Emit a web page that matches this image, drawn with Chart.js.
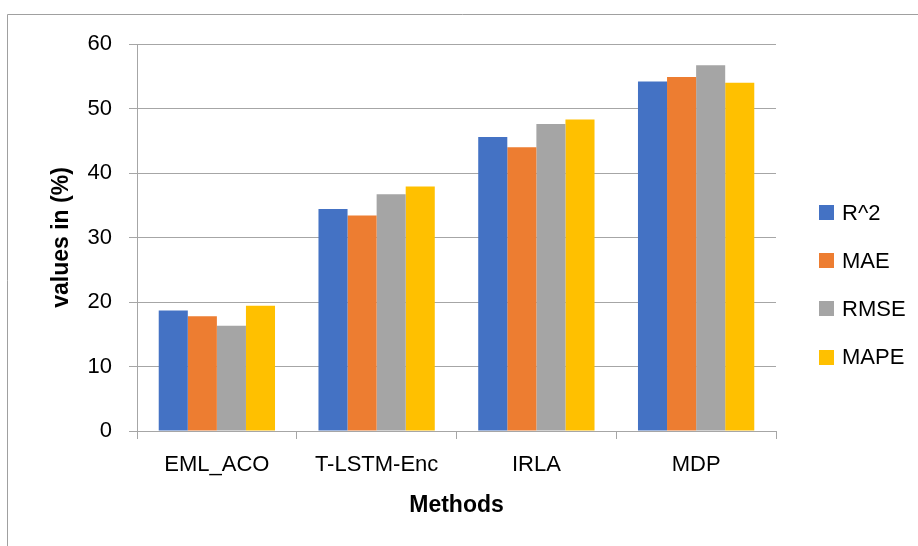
<!DOCTYPE html>
<html>
<head>
<meta charset="utf-8">
<script src="https://cdn.jsdelivr.net/npm/chart.js@4.4.0/dist/chart.umd.min.js"></script>
<style>
  html, body { margin: 0; padding: 0; background: #fff; }
  #wrap { width: 918px; height: 546px; position: relative; }
</style>
</head>
<body>
<div id="wrap"><canvas id="c" width="918" height="546"></canvas></div>
<script>
const categories = ["EML_ACO", "T-LSTM-Enc", "IRLA", "MDP"];
const seriesNames = ["R^2", "MAE", "RMSE", "MAPE"];
const r2 = [18.7, 34.4, 45.6, 54.2];
const mae = [17.8, 33.4, 44.0, 54.9];
const rmse = [16.3, 36.7, 47.6, 56.7];
const mape = [19.4, 37.9, 48.3, 54.0];
const yTicks = [0, 10, 20, 30, 40, 50, 60];
const colors = ["#4472C4", "#ED7D31", "#A5A5A5", "#FFC000"];

const FONT = "'Liberation Sans', Arial, sans-serif";
const GRID = "#a6a6a6";

const frameAndLegend = {
  id: 'frameAndLegend',
  beforeDraw(chart) {
    const ctx = chart.ctx;
    ctx.save();
    ctx.fillStyle = '#ffffff';
    ctx.fillRect(0, 0, chart.width, chart.height);
    ctx.strokeStyle = '#a0a0a0';
    ctx.lineWidth = 1;
    ctx.beginPath();
    ctx.moveTo(7.5, chart.height);
    ctx.lineTo(7.5, 14.5);
    ctx.lineTo(chart.width, 14.5);
    ctx.stroke();
    ctx.restore();
  },
  afterDraw(chart) {
    const ctx = chart.ctx;
    ctx.save();
    ctx.font = "22px " + FONT;
    ctx.textBaseline = 'middle';
    ctx.textAlign = 'left';
    chart.data.datasets.forEach((ds, i) => {
      const cy = 212.5 + i * 48.2;
      ctx.fillStyle = ds.backgroundColor;
      ctx.fillRect(819, Math.round(cy - 7.5), 15, 15);
      ctx.fillStyle = '#000';
      ctx.fillText(ds.label, 842, cy + 1);
    });
    ctx.restore();
  }
};

const datasets = [r2, mae, rmse, mape].map((vals, i) => ({
  label: seriesNames[i],
  data: vals,
  backgroundColor: colors[i],
  borderWidth: 0,
  categoryPercentage: 0.728,
  barPercentage: 1.0
}));

new Chart(document.getElementById('c'), {
  type: 'bar',
  data: { labels: categories, datasets },
  plugins: [frameAndLegend],
  options: {
    responsive: false,
    animation: false,
    layout: { padding: { left: 0, top: 44, right: 142, bottom: 0 } },
    plugins: {
      legend: { display: false },
      tooltip: { enabled: false }
    },
    scales: {
      x: {
        offset: true,
        grid: {
          display: true,
          offset: true,
          drawOnChartArea: false,
          drawTicks: true,
          tickLength: 8,
          color: GRID,
          lineWidth: 1
        },
        border: { display: true, color: GRID, width: 1 },
        ticks: {
          font: { family: FONT, size: 22 },
          color: '#000',
          padding: 13,
          maxRotation: 0,
          autoSkip: false
        },
        title: {
          display: true,
          text: 'Methods',
          font: { family: FONT, size: 23, weight: 'bold' },
          color: '#000',
          padding: { top: 0, bottom: 27 }
        },
        afterFit(scale) { scale.height = 115; }
      },
      y: {
        min: 0,
        max: 60,
        afterBuildTicks(scale) { scale.ticks = yTicks.map(v => ({ value: v })); },
        grid: {
          color: GRID,
          lineWidth: 1,
          drawTicks: true,
          tickLength: 8
        },
        border: { display: true, color: GRID, width: 1 },
        ticks: {
          font: { family: FONT, size: 22 },
          color: '#000',
          padding: 17
        },
        title: {
          display: true,
          text: 'values in (%)',
          font: { family: FONT, size: 23, weight: 'bold' },
          color: '#000',
          padding: { top: 48, bottom: 0 }
        },
        afterFit(scale) { scale.width = 137; }
      }
    }
  }
});
</script>
</body>
</html>
